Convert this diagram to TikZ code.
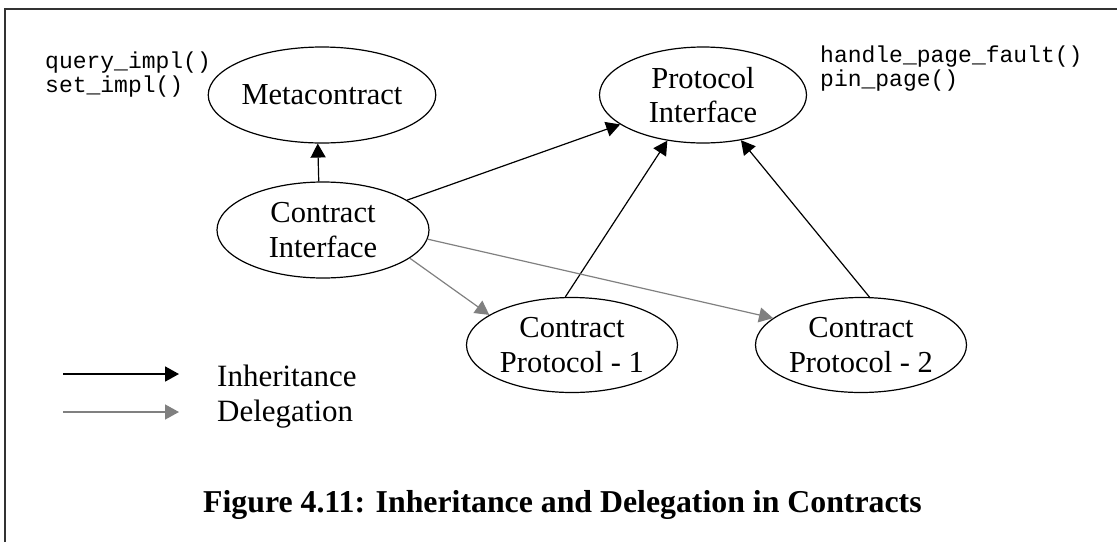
\documentclass[tikz,border=0pt]{standalone}
\usepackage{fontspec}
\setmainfont{Liberation Serif}
\setmonofont{Liberation Mono}
\usetikzlibrary{shapes.geometric,arrows.meta}
\begin{document}
\begin{tikzpicture}[x=1pt,y=-1pt,
  class/.style={ellipse,draw,line width=1.2pt,inner sep=0pt,align=center,
    font=\fontsize{30.5}{34.5}\selectfont},
  inherit/.style={draw=black,line width=1.2pt,-{Triangle[length=14pt,width=15pt]}},
  delegate/.style={draw=black!50,line width=1.2pt,-{Triangle[length=14pt,width=15pt]}},
  code/.style={inner sep=0pt,align=left,anchor=base west,
    font=\fontsize{23}{24}\selectfont\ttfamily},
  legendtext/.style={inner sep=0pt,anchor=base west,font=\fontsize{31}{34}\selectfont},
  frame/.style={line width=1.5pt,draw=black!80}]
\useasboundingbox (0,0) rectangle (1117,542);
% open frame: left and top edges
\draw[frame] (5,542) -- (5,9) -- (1117,9);

% classes
\node[class,minimum width=212pt,minimum height=96pt] (meta) at (322,95) {Metacontract};
\node[class,minimum width=207pt,minimum height=96pt] (pi) at (703,95) {Protocol\\Interface};
\node[class,minimum width=212pt,minimum height=96pt] (ci) at (323,230) {Contract\\Interface};
\node[class,minimum width=211pt,minimum height=95pt] (cp1) at (572,345) {Contract\\Protocol - 1};
\node[class,minimum width=211pt,minimum height=95pt] (cp2) at (861,345) {Contract\\Protocol - 2};

% method lists (anchored at the baseline of the last line)
\node[code] (metaops) at (45,92) {query\_impl()\\set\_impl()};
\node[code] (piops) at (820,86) {handle\_page\_fault()\\pin\_page()};

% inheritance
\draw[inherit] (ci.95) -- (meta.-95);
\draw[inherit] (ci) -- (pi);
\draw[inherit] (cp1.98) -- (pi.232);
\draw[inherit] (cp2.80) -- (pi.-50);

% delegation
\draw[delegate] (ci.-18) -- (cp1.160);
\draw[delegate] (ci.-5) -- (cp2.163);

% legend
\coordinate (inhA) at (63,374);
\coordinate (inhB) at (179,374);
\coordinate (delA) at (63,412);
\coordinate (delB) at (179,412);
\draw[inherit,line width=1.8pt] (inhA) -- (inhB);
\draw[delegate,line width=1.5pt] (delA) -- (delB);
\node[legendtext] (inhtext) at (217,386) {Inheritance};
\node[legendtext] (deltext) at (217,421) {Delegation};

% caption
\node[inner sep=0pt,anchor=base west,font=\fontsize{31.8}{36}\selectfont\bfseries]
  (caption) at (203,512) {Figure 4.11: Inheritance and Delegation in Contracts};
\end{tikzpicture}
\end{document}
